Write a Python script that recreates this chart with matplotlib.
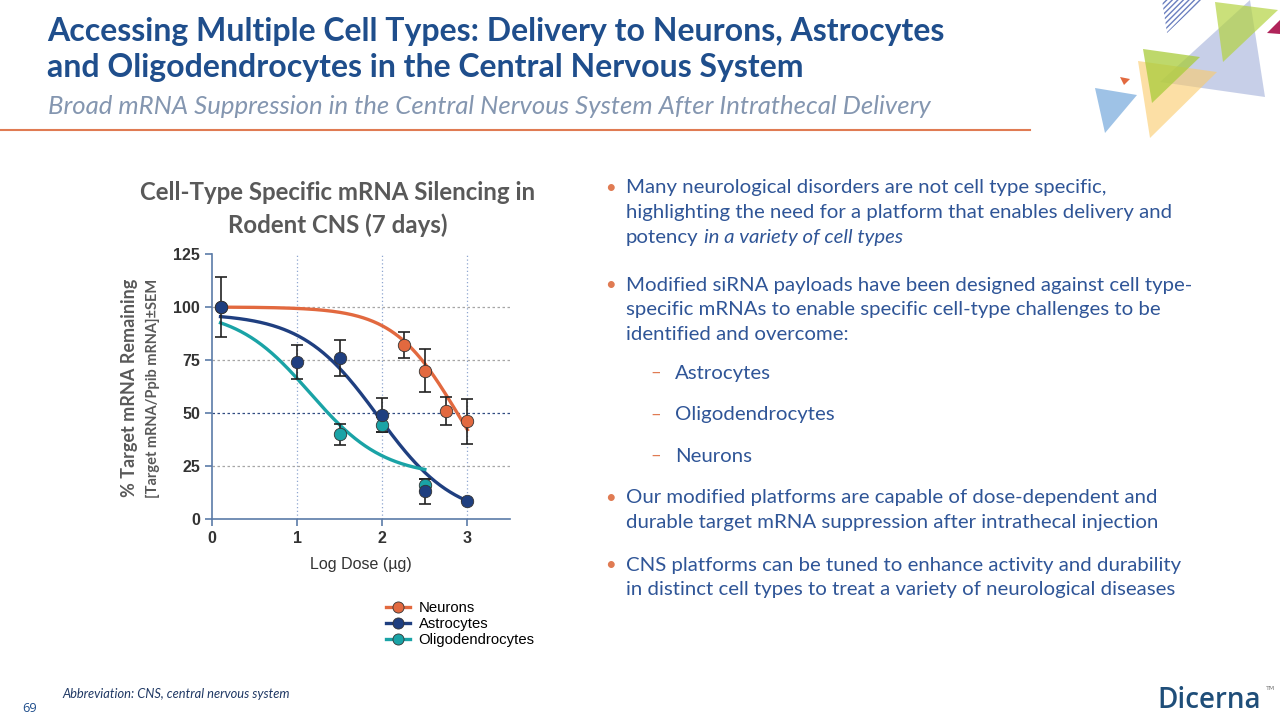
import numpy as np
import matplotlib
matplotlib.use("Agg")
import matplotlib.pyplot as plt
from matplotlib.patches import Polygon
from matplotlib.lines import Line2D

# ------------------------------------------------------------
# Data
# ------------------------------------------------------------
neuron_dose = [0.1, 2.25, 2.5, 2.75, 3.0]
neuron_pct = [100, 82, 70, 51, 46]
neuron_sem = [0, 6, 10, 6.5, 10.5]

astro_dose = [0.1, 1.0, 1.5, 2.0, 2.5, 3.0]
astro_pct = [100, 74, 76, 49, 13, 8.5]
astro_sem = [14, 8, 8.5, 8, 6, 0]

oligo_dose = [1.5, 2.0, 2.5]
oligo_pct = [40, 44.5, 16]
oligo_sem = [5, 3.5, 3]

# 4-parameter logistic fits: (top, bottom, logIC50, hill, x_start, x_end)
neuron_fit = (100, 0, 2.88, 1.15, 0.1, 3.0)
astro_fit = (97, 0, 1.95, 0.97, 0.1, 3.0)
oligo_fit = (99, 20, 1.15, 1.0, 0.1, 2.5)

series_names = ["Neurons", "Astrocytes", "Oligodendrocytes"]
series_colors = ["#E2693F", "#1F3F80", "#1AA3A6"]

x_ticks = [0, 1, 2, 3]
y_ticks = [0, 25, 50, 75, 100, 125]

para1 = ["Many neurological disorders are not cell type specific,",
         "highlighting the need for a platform that enables delivery and",
         "potency"]
para1_italic = "in a variety of cell types"
para2 = ["Modified siRNA payloads have been designed against cell type-",
         "specific mRNAs to enable specific cell-type challenges to be",
         "identified and overcome:"]
sub_bullets = ["Astrocytes", "Oligodendrocytes", "Neurons"]
para3 = ["Our modified platforms are capable of dose-dependent and",
         "durable target mRNA suppression after intrathecal injection"]
para4 = ["CNS platforms can be tuned to enhance activity and durability",
         "in distinct cell types to treat a variety of neurological diseases"]

TITLE_BLUE = "#1F4E8C"
TEXT_BLUE = "#2F5597"
FONT = ["Lato", "DejaVu Sans"]
BODY_SIZE = 14.7
LINE_H = 24.5


def logistic(params, n=200):
    top, bottom, c, h, x0, x1 = params
    x = np.linspace(x0, x1, n)
    return x, bottom + (top - bottom) / (1 + 10 ** ((x - c) * h))


def paragraph(ax, y0, lines, bullet="•", bx=605, tx=626):
    ax.text(bx, y0, bullet, fontsize=BODY_SIZE * 0.9, color="#E07B53",
            va="center", family=FONT)
    last = None
    for i, ln in enumerate(lines):
        last = ax.text(tx, y0 + i * LINE_H, ln, fontsize=BODY_SIZE,
                       color=TEXT_BLUE, va="center", family=FONT)
    return last


fig = plt.figure(figsize=(12.8, 7.2), dpi=100)

# ------------------------------------------------------------
# Slide background layer (pixel coordinates)
# ------------------------------------------------------------
bg = fig.add_axes([0, 0, 1, 1])
bg.set_xlim(0, 1280)
bg.set_ylim(720, 0)
bg.axis("off")

bg.text(47, 31, "Accessing Multiple Cell Types: Delivery to Neurons, Astrocytes",
        fontsize=23, fontweight="bold", color=TITLE_BLUE, va="center",
        family=FONT)
bg.text(47, 68, "and Oligodendrocytes in the Central Nervous System",
        fontsize=23, fontweight="bold", color=TITLE_BLUE, va="center",
        family=FONT)
bg.text(48, 106, "Broad mRNA Suppression in the Central Nervous System After "
        "Intrathecal Delivery", fontsize=18.5, style="italic",
        color="#8496B0", va="center", family=FONT)
bg.plot([0, 1030], [130, 130], color="#E07B53", lw=1.5)

# decorative triangles
tri = [
    ([(1160, 82), (1265, 97), (1250, 0)], "#9AA9D6", 0.55),
    ([(1215, 2), (1278, 10), (1223, 62)], "#B4D342", 0.7),
    ([(1138, 61), (1217, 72), (1150, 138)], "#FBCB6A", 0.6),
    ([(1143, 49), (1200, 57), (1152, 103)], "#A9CC3A", 0.75),
    ([(1095, 88), (1137, 95), (1105, 133)], "#8DB8E2", 0.85),
    ([(1120, 77), (1130, 79), (1124, 85)], "#E2693F", 1.0),
    ([(1267, 33), (1280, 20), (1280, 34)], "#B0245A", 1.0),
]
for verts, col, a in tri:
    bg.add_patch(Polygon(verts, closed=True, facecolor=col, edgecolor="none",
                         alpha=a))
bg.add_patch(Polygon([(1162, 0), (1202, 0), (1167, 33)], closed=True,
                     facecolor="none", edgecolor="#6A7FBF", hatch="//////",
                     lw=0))

# chart title
bg.text(338, 209, "Cell-Type Specific mRNA Silencing in\nRodent CNS (7 days)",
        fontsize=17.3, fontweight="bold", color="#595959", ha="center",
        va="center", linespacing=1.5, family=FONT)

# y-axis labels
bg.text(130, 388, "% Target mRNA Remaining", fontsize=13, fontweight="bold",
        color="#595959", rotation=90, ha="center", va="center", family=FONT)
bg.text(153, 388, "[Target mRNA/Ppib mRNA]±SEM", fontsize=10.5,
        fontweight="bold", color="#595959", rotation=90, ha="center",
        va="center", family=FONT)

# bullets
last = paragraph(bg, 188, para1)
fig.canvas.draw()
bb = last.get_window_extent()
bg.text(bb.x1 + 5, 188 + 2 * LINE_H, para1_italic, fontsize=BODY_SIZE,
        style="italic", color=TEXT_BLUE, va="center", family=FONT)
paragraph(bg, 285, para2)
for i, sb in enumerate(sub_bullets):
    y = 373 + i * 41.5
    bg.text(650, y, "–", fontsize=BODY_SIZE * 0.9, color="#E07B53",
            va="center", family=FONT)
    bg.text(675, y, sb, fontsize=BODY_SIZE, color=TEXT_BLUE, va="center",
            family=FONT)
paragraph(bg, 498, para3)
paragraph(bg, 565, para4)

# footer
bg.text(62, 694, "Abbreviation: CNS, central nervous system", fontsize=9.3,
        style="italic", color="#1F3864", va="center", family=FONT)
bg.text(22, 708, "69", fontsize=9.3, color=TITLE_BLUE, va="center",
        family=["Open Sans", "DejaVu Sans"])
bg.text(1157, 700, "Dicerna", fontsize=20, fontweight="semibold",
        color="#1F4E79", va="center", family=["Open Sans", "DejaVu Sans"])
bg.text(1266, 689, "TM", fontsize=4.5, color="#777777", va="center")

# ------------------------------------------------------------
# Chart
# ------------------------------------------------------------
ax = fig.add_axes([212 / 1280, 1 - 519 / 720, 298 / 1280, 265 / 720])
ax.set_xlim(0, 3.5)
ax.set_ylim(0, 125)

for xv in [1, 2, 3]:
    ax.axvline(xv, color="#8FA6D0", lw=0.9, ls=(0, (1, 2)), zorder=0)
for yv in [25, 75, 100]:
    ax.axhline(yv, color="#A6A6A6", lw=0.9, ls=(0, (2, 2)), zorder=0)
ax.axhline(50, color="#2F4A80", lw=0.9, ls=(0, (2, 2)), zorder=0)

fits = [neuron_fit, astro_fit, oligo_fit]
data = [(neuron_dose, neuron_pct, neuron_sem),
        (astro_dose, astro_pct, astro_sem),
        (oligo_dose, oligo_pct, oligo_sem)]

# curves first, then error bars and markers
for fit, col in zip(fits, series_colors):
    fx, fy = logistic(fit)
    ax.plot(fx, fy, color=col, lw=2.4, zorder=2)

for k in [0, 2, 1]:
    d, p, s = data[k]
    ax.errorbar(d, p, yerr=s, fmt="none", ecolor="#222222", elinewidth=1.2,
                capsize=4, capthick=1.2, zorder=3)
for k in [0, 2, 1]:
    d, p, s = data[k]
    ax.scatter(d, p, s=80, color=series_colors[k], edgecolor="#333333",
               linewidth=0.6, zorder=4)

for side in ["top", "right"]:
    ax.spines[side].set_visible(False)
for side in ["left", "bottom"]:
    ax.spines[side].set_color("#5B7BA8")
    ax.spines[side].set_linewidth(1.2)
ax.set_xticks(x_ticks)
ax.set_yticks(y_ticks)
ax.tick_params(colors="#5B7BA8", length=5, width=1.2, labelsize=11.5,
               labelcolor="#333333")
for lbl in ax.get_xticklabels() + ax.get_yticklabels():
    lbl.set_fontweight("bold")
    lbl.set_family(["Liberation Sans", "DejaVu Sans"])
ax.set_xlabel("Log Dose (µg)", fontsize=11.5, color="#333333",
              family=["Liberation Sans", "DejaVu Sans"], labelpad=8)

handles = [Line2D([0], [0], color=c, lw=2.4, marker="o", markersize=8,
                  markeredgecolor="#333333", markeredgewidth=0.6)
           for c in series_colors]
fig.legend(handles, series_names, loc="upper left",
           bbox_to_anchor=(380 / 1280, 1 - 595 / 720), frameon=False,
           prop={"family": ["Liberation Sans", "DejaVu Sans"], "size": 10.7},
           handlelength=1.6, handletextpad=0.6, labelspacing=0.15,
           borderaxespad=0)

fig.savefig("out.png", dpi=100)
